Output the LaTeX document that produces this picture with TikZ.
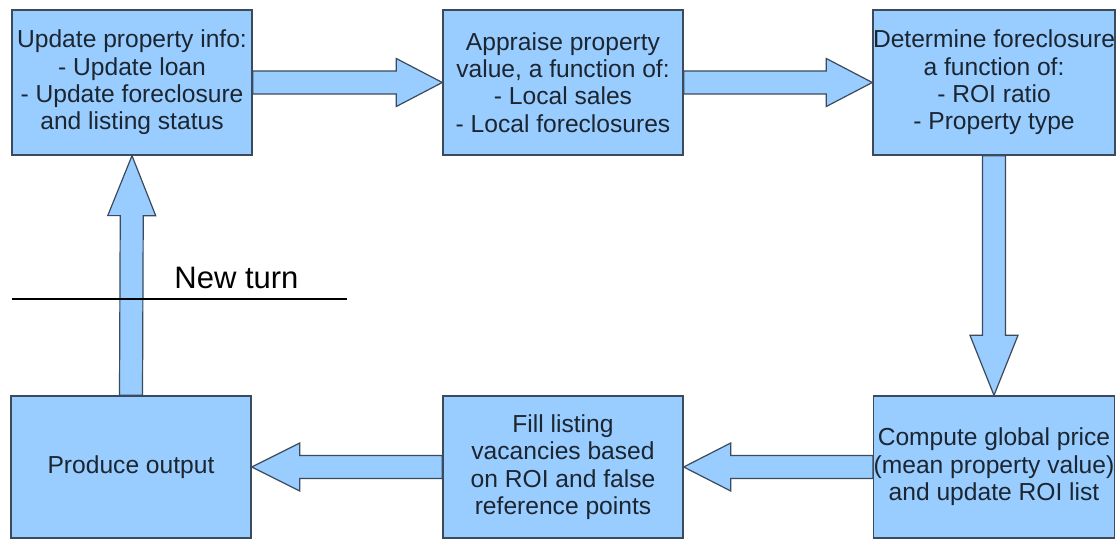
\documentclass[tikz,border=0pt]{standalone}
\usepackage{fontspec}
\setmainfont{Liberation Sans}
\usetikzlibrary{calc}

\definecolor{boxfill}{HTML}{99CCFF}
\definecolor{boxline}{HTML}{3B4A5C}
\definecolor{boxtext}{HTML}{1C2630}

\tikzset{
  stepbox/.style={draw=boxline, fill=boxfill, line width=0.7pt,
    minimum width=120pt, minimum height=72.5pt, inner sep=0pt,
    align=center, text=boxtext, font=\fontsize{12.3}{13.7}\selectfont},
  fatarrow/.style={draw=boxline, fill=boxfill, line width=0.6pt, line join=miter}
}

% block arrow: #1 start, #2 tip, #3 head length
\newcommand{\blockarrow}[3]{%
  \coordinate (hb) at ($(#2)!#3!(#1)$);
  \draw[fatarrow] ($(#1)!5.75pt!90:(#2)$) -- ($(hb)!5.75pt!90:(#2)$)
    -- ($(hb)!12pt!90:(#2)$) -- (#2) -- ($(hb)!12pt!-90:(#2)$)
    -- ($(hb)!5.75pt!-90:(#2)$) -- ($(#1)!5.75pt!-90:(#2)$) -- cycle;}

\begin{document}
\begin{tikzpicture}[x=0.5pt, y=-0.5pt]
        \useasboundingbox (0,0) rectangle (1120,540);

        % Top row
        \node[stepbox] (update) at (132,82.5) {Update property info:\\- Update loan\\- Update foreclosure\\and listing status};
        \node[stepbox] (appraise) at (563,82.5) {Appraise property\\value, a function of:\\- Local sales\\- Local foreclosures};
        \node[stepbox] (foreclose) at (994,82.5) {Determine foreclosure\\a function of:\\- ROI ratio\\- Property type};

        % Bottom row
        \node[stepbox, minimum height=71pt] (output) at (131,467) {Produce output};
        \node[stepbox, minimum height=71pt] (fill) at (563,467) {Fill listing\\vacancies based\\on ROI and false\\reference points};
        \node[stepbox, minimum height=71pt] (compute) at (994,467) {Compute global price\\(mean property value)\\and update ROI list};

        % Block arrows
        \blockarrow{update.east}{appraise.west}{23pt}
        \blockarrow{appraise.east}{foreclose.west}{23pt}
        \blockarrow{foreclose.south}{compute.north}{30pt}
        \blockarrow{compute.west}{fill.east}{23.5pt}
        \blockarrow{fill.west}{output.east}{24pt}
        \blockarrow{output.north}{update.south}{30pt}

        % New turn line
        \coordinate (turnL) at (12,299);
        \coordinate (turnR) at (347,299);
        \draw[line width=1.3pt, black] (turnL) -- (turnR);
        \node[anchor=base, inner sep=0pt, font=\fontsize{15.5}{18}\selectfont] (turn) at (236.5,288) {New turn};

    \end{tikzpicture}
\end{document}
